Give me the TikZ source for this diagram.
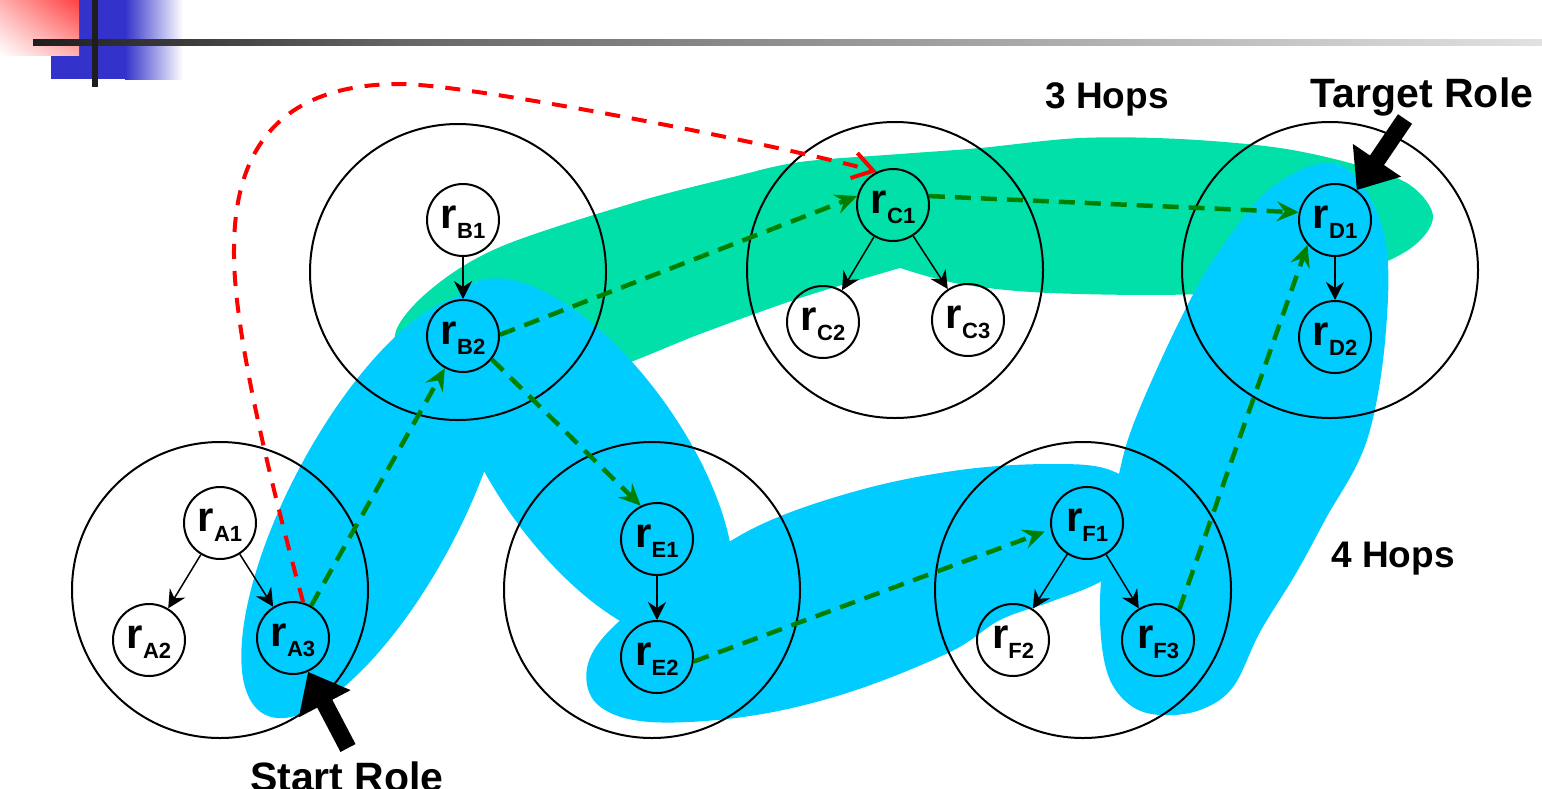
\documentclass[tikz,border=0pt]{standalone}
\usepackage{fontspec}
\setmainfont{Liberation Sans}
\usetikzlibrary{arrows.meta,shadings}
\definecolor{cgreen}{RGB}{0,224,168}
\definecolor{cblue}{RGB}{0,204,255}
\definecolor{dgreen}{RGB}{0,128,0}
\definecolor{dblue}{RGB}{51,51,204}
\definecolor{lred}{RGB}{255,64,64}
\definecolor{pred}{RGB}{255,175,175}
\definecolor{dk}{RGB}{30,30,30}
\definecolor{mg}{RGB}{102,102,102}
\definecolor{lg}{RGB}{225,225,225}
\newcommand{\rlab}[1]{{\fontsize{42}{42}\selectfont r}{\fontsize{22}{22}\selectfont\raisebox{-10pt}{#1}}}
\begin{document}
\begin{tikzpicture}[x=1pt,y=-1pt,
  role/.style={circle, draw, line width=2pt, minimum size=72pt, inner sep=0pt, text height=22pt, text depth=4.6pt, font=\bfseries},
  grp/.style={circle, draw, line width=2pt, minimum size=296pt, inner sep=0pt},
  blk/.style={line width=1.5pt, -{Stealth[length=18pt,width=18pt,inset=6pt]}},
  gdash/.style={dgreen, line width=4.5pt, dash pattern=on 16pt off 10pt, -{Stealth[length=22pt,width=20pt,inset=8pt]}},
  rdash/.style={red, line width=4pt, dash pattern=on 15pt off 12pt, -{Straight Barb[length=20pt,width=26pt]}},
  bigarr/.style={line width=17pt, -{Triangle[length=36pt,width=56pt]}},
  hops/.style={font=\bfseries\fontsize{37}{37}\selectfont, anchor=base, inner sep=0pt},
  rolelab/.style={font=\bfseries\fontsize{41}{41}\selectfont, anchor=base, inner sep=0pt}
]
\useasboundingbox (0,0) rectangle (1542,788);
% header decoration
\fill[dblue] (51,0) rectangle (125,79);
\shade[left color=dblue, right color=white] (125,0) rectangle (183,79);
\shade[upper left=pred, upper right=lred, lower left=white, lower right=pred] (0,0) rectangle (79,55);
\shade[left color=dk, right color=mg] (33,39.3) rectangle (400,45.3);
\shade[left color=mg, right color=lg] (399.5,39.3) rectangle (1542,45.3);
\fill[dk] (92,0) rectangle (98,87);

% green region (3 hops)
\fill[cgreen] plot[smooth, tension=0.55] coordinates {(900,268) (960,284) (1050,293) (1200,294) (1330,280) (1405,252) (1433,218) (1410,185) (1357,165) (1280,148) (1180,139) (1080,138) (980,148) (900,154) (800,162) (733,177) (633,203) (500,247) (430,290) (395,335) (420,372) (520,385) (607,370) (700,334) (800,298) (900,268)} -- cycle;
% blue region (4 hops)
\fill[cblue, rotate around={61.9:(375,507)}] (375,507) ellipse [x radius=235pt, y radius=85pt];
\fill[cblue, rotate around={-54.8:(589,460)}] (589,460) ellipse [x radius=212pt, y radius=95pt];
\fill[cblue] plot[smooth cycle, tension=0.6] coordinates {(587,668) (612,628) (680,575) (760,525) (860,490) (960,470) (1050,464) (1110,470) (1145,500) (1135,555) (1100,582) (1050,602) (1000,620) (950,652) (850,692) (750,716) (650,722) (598,705)};
\fill[cblue] plot[smooth cycle, tension=0.6] coordinates {(1340,165) (1383,230) (1386,330) (1367,440) (1325,520) (1295,575) (1260,632) (1233,687) (1200,710) (1160,715) (1130,705) (1108,675) (1100,620) (1104,550) (1118,478) (1135,420) (1180,320) (1220,250) (1275,185)};

% group circles
\node[grp] (GA) at (220,590) {};
\node[grp] (GB) at (458,272) {};
\node[grp] (GC) at (895,270) {};
\node[grp] (GD) at (1330,270) {};
\node[grp] (GE) at (652,590) {};
\node[grp] (GF) at (1083,590) {};

% role nodes
\node[role] (A1) at (220,523) {\rlab{A1}};
\node[role] (A2) at (149,640) {\rlab{A2}};
\node[role] (A3) at (293,638) {\rlab{A3}};
\node[role] (B1) at (463,220) {\rlab{B1}};
\node[role] (B2) at (463,336) {\rlab{B2}};
\node[role] (C1) at (893,205) {\rlab{C1}};
\node[role] (C2) at (823,322) {\rlab{C2}};
\node[role] (C3) at (968,320) {\rlab{C3}};
\node[role] (D1) at (1335,220) {\rlab{D1}};
\node[role] (D2) at (1335,337) {\rlab{D2}};
\node[role] (E1) at (657,539) {\rlab{E1}};
\node[role] (E2) at (657,657) {\rlab{E2}};
\node[role] (F1) at (1087,523) {\rlab{F1}};
\node[role] (F2) at (1013,640) {\rlab{F2}};
\node[role] (F3) at (1158,640) {\rlab{F3}};

% hierarchy arrows
\draw[blk] (A1) -- (A2);
\draw[blk] (A1) -- (A3);
\draw[blk] (B1) -- (B2);
\draw[blk] (C1) -- (C2);
\draw[blk] (C1) -- (C3);
\draw[blk] (D1) -- (D2);
\draw[blk] (E1) -- (E2);
\draw[blk] (F1) -- (F2);
\draw[blk] (F1) -- (F3);

% red dashed 3-hop path
\draw[rdash] (A3.74) .. controls (270,480) and (233,330) .. (234,250) .. controls (234,160) and (270,84) .. (400,84) .. controls (470,84) and (775,144) .. (C1.116);

% green dashed paths
\draw[gdash] (A3) -- (B2);
\draw[gdash] (B2.2) -- (C1.166);
\draw[gdash] (C1.14) -- (D1.168);
\draw[gdash] (B2.-39) -- (E1.116);
\draw[gdash, shorten >=6pt] (E2.-7) -- (F1.190);
\draw[gdash] (F3.55) -- (D1.222);

% start / target arrows
\coordinate (st) at (348,748);
\coordinate (tt) at (1405,119);
\draw[bigarr] (st) -- (A3.-66);
\draw[bigarr] (tt) -- (D1.54);

% labels
\node[hops] (h3) at (1107,108) {3 Hops};
\node[hops] (h4) at (1393,567) {4 Hops};
\node[rolelab] (tr) at (1422,107) {Target Role};
\node[rolelab] (sr) at (347,791) {Start Role};
\end{tikzpicture}
\end{document}
